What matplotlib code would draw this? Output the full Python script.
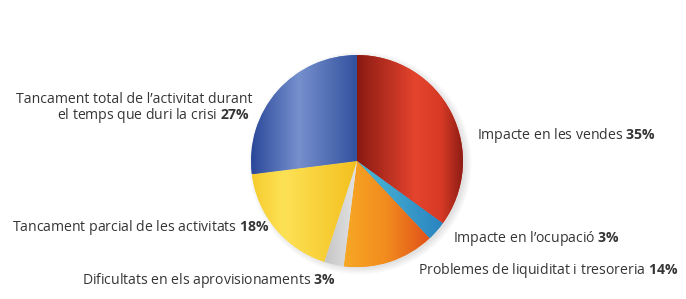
import numpy as np
import matplotlib
matplotlib.use("Agg")
import matplotlib.pyplot as plt
from matplotlib.colors import LinearSegmentedColormap
from matplotlib.patches import Circle

plt.rcParams['mathtext.fontset'] = 'custom'
plt.rcParams['mathtext.rm'] = 'Open Sans'
plt.rcParams['mathtext.bf'] = 'Open Sans:bold'
plt.rcParams['mathtext.it'] = 'Open Sans:italic'

labels = ["Impacte en les vendes", "Impacte en l\u2019ocupació",
          "Problemes de liquiditat i tresoreria", "Dificultats en els aprovisionaments",
          "Tancament parcial de les activitats",
          "Tancament total de l\u2019activitat durant\nel temps que duri la crisi"]
values = [35, 3, 14, 3, 18, 27]
pct_labels = ["35%", "3%", "14%", "3%", "18%", "27%"]

gradients = [
    [(0, '#8a1a12'), (0.55, '#e5442d'), (0.8, '#d63a25'), (1, '#8e1c14')],
    [(0, '#4cbad8'), (1, '#2a84bf')],
    [(0, '#f7a824'), (0.5, '#f28b1e'), (1, '#e0501a')],
    [(0, '#c4c4c4'), (1, '#e4e4e4')],
    [(0, '#f6cc2e'), (0.3, '#fde155'), (1, '#f3c01e')],
    [(0, '#2a4899'), (0.45, '#7690cd'), (1, '#33529f')],
]

W, H = 686, 299
fig = plt.figure(figsize=(W / 100, H / 100), dpi=100)
fig.patch.set_facecolor('white')

cx, cy, r = 357, 161, 106
ax = fig.add_axes([(cx - r) / W, (H - cy - r) / H, 2 * r / W, 2 * r / H])
ax.set_xlim(-1, 1)
ax.set_ylim(-1, 1)
ax.axis('off')

# soft shadow, mostly to the lower right
for k in range(6):
    ax.add_patch(Circle((0.03, -0.02), 0.99 + 0.012 * k, color='#000000',
                        alpha=0.02, lw=0, zorder=0, clip_on=False))

wedges, _ = ax.pie(values, startangle=90, counterclock=False, radius=1,
                   wedgeprops=dict(linewidth=0))
ax.set_xlim(-1, 1)
ax.set_ylim(-1, 1)

for w, stops in zip(wedges, gradients):
    t1, t2 = np.deg2rad(w.theta1), np.deg2rad(w.theta2)
    th = np.linspace(t1, t2, 200)
    xs = np.concatenate([[0], np.cos(th)])
    ys = np.concatenate([[0], np.sin(th)])
    x0, x1, y0, y1 = xs.min(), xs.max(), ys.min(), ys.max()
    cmap = LinearSegmentedColormap.from_list('g', stops)
    grad = np.tile(np.linspace(0, 1, 256), (4, 1))
    im = ax.imshow(grad, cmap=cmap, extent=[x0, x1, y0, y1], aspect='auto',
                   interpolation='bilinear', zorder=2)
    im.set_clip_path(w)
    w.set_zorder(1)
    w.set_facecolor(stops[len(stops) // 2][1])

FONT = 'Open Sans'
FS = 10.1
TEXT_C = '#353535'


def mixed(txt, pct):
    return txt + ' $\\mathbf{' + pct.replace('%', '\\%') + '}$'


def place(x, y, txt, pct, ha='left'):
    fig.text(x / W, 1 - y / H, mixed(txt, pct), ha=ha, va='baseline',
             fontsize=FS, family=FONT, color=TEXT_C)


place(477, 139, labels[0], pct_labels[0])
place(453, 242, labels[1], pct_labels[1])
place(418, 274, labels[2], pct_labels[2])
place(82, 284, labels[3], pct_labels[3])
place(12, 231, labels[4], pct_labels[4])

line1, line2 = labels[5].split('\n')
fig.text(252 / W, 1 - 103 / H, line1, ha='right', va='baseline', fontsize=FS,
         family=FONT, color=TEXT_C)
place(250, 119, line2, pct_labels[5], ha='right')

fig.savefig('out.png', dpi=100, facecolor='white')
